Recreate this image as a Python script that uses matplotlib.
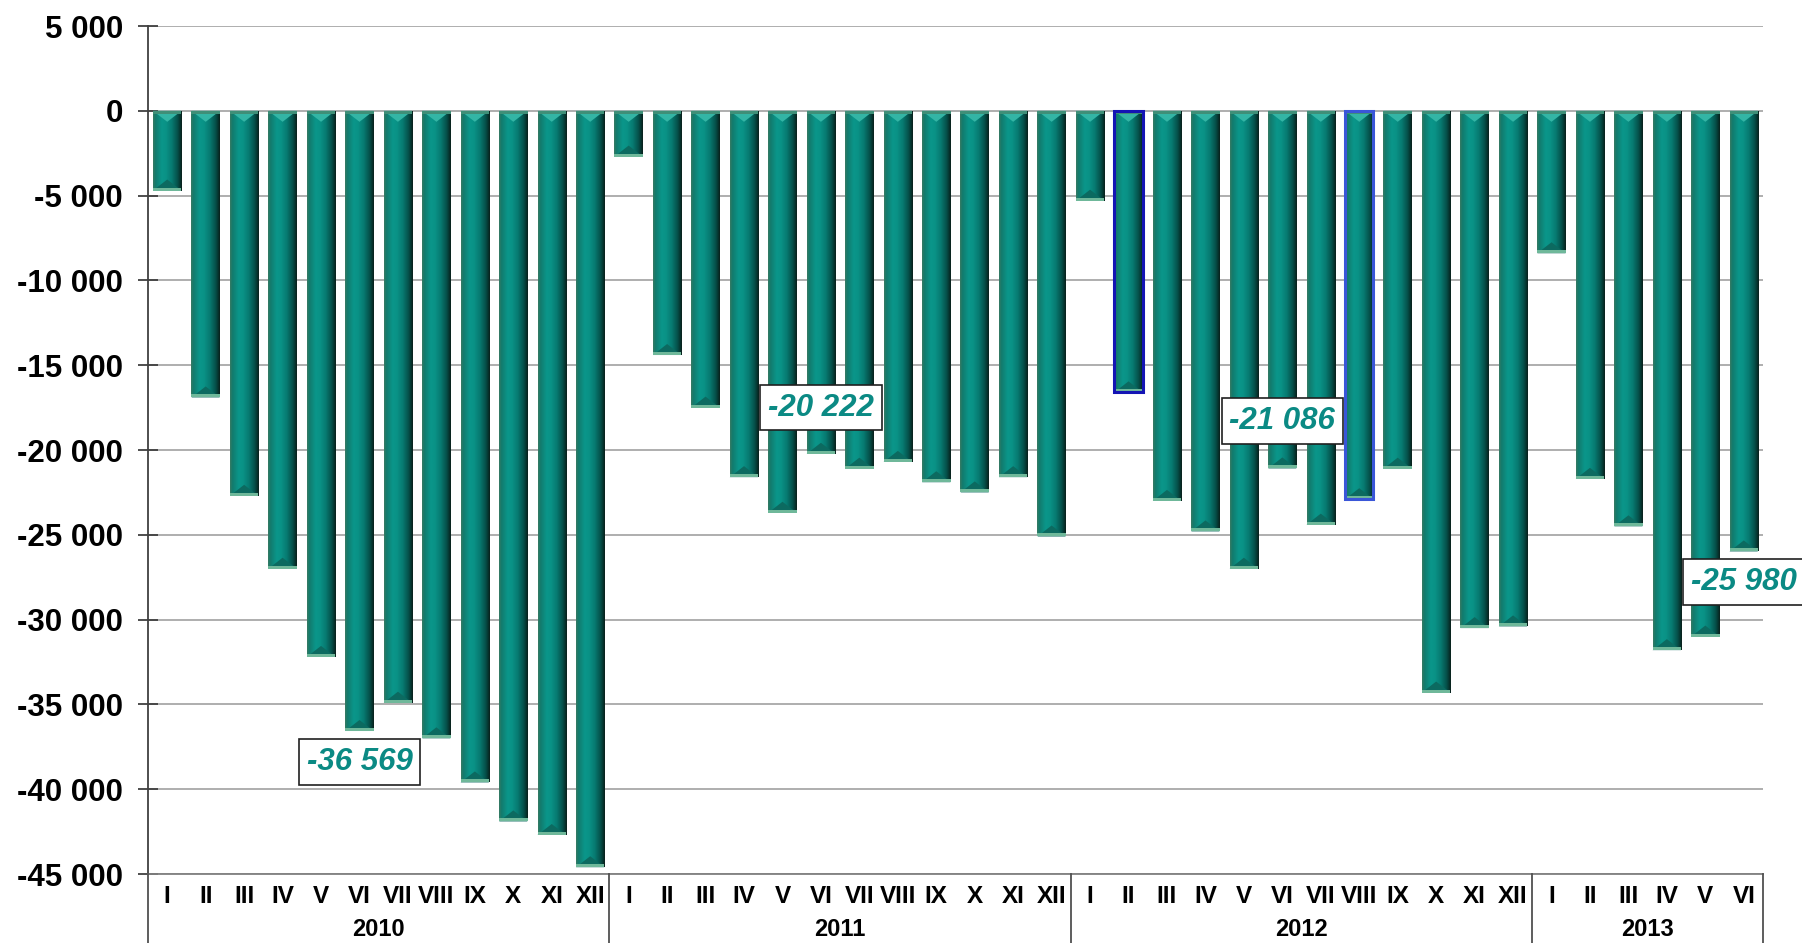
import matplotlib
matplotlib.use("Agg")
import matplotlib.pyplot as plt
import numpy as np
from matplotlib.colors import LinearSegmentedColormap
from matplotlib.patches import Polygon
from matplotlib.ticker import FuncFormatter, MultipleLocator
import matplotlib.transforms as mtransforms

plt.rcParams['font.family'] = ['Liberation Sans', 'DejaVu Sans']

# ---- data ----
years = ["2010", "2011", "2012", "2013"]
months_per_year = [12, 12, 12, 6]
month_names = ["I", "II", "III", "IV", "V", "VI", "VII", "VIII", "IX", "X", "XI", "XII"]

values_2010 = [-4700, -16900, -22700, -27000, -32200, -36569, -34900, -37000, -39600, -41900, -42700, -44600]
values_2011 = [-2700, -14400, -17500, -21600, -23700, -20222, -21100, -20700, -21900, -22500, -21600, -25100]
values_2012 = [-5300, -16600, -23000, -24800, -27000, -21086, -24400, -22900, -21100, -34300, -30500, -30400]
values_2013 = [-8400, -21700, -24500, -31800, -31000, -25980]

# annotated bars: (global index, label text, label y-position)
callouts = [(5, "-36 569", -38400), (17, "-20 222", -17500), (29, "-21 086", -18300), (41, "-25 980", -27800)]
# bars with blue outline
blue_edges = {25: "#1414b4", 31: "#3a56d8"}

values = values_2010 + values_2011 + values_2012 + values_2013
labels = []
for n in months_per_year:
    labels += month_names[:n]
x = np.arange(len(values))

fig = plt.figure(figsize=(18.02, 9.43), dpi=100)
ax = fig.add_axes([148/1802, 1 - 874/943, (1763-148)/1802, (874-26)/943])
ax.set_xlim(-0.5, len(values) - 0.5)
ax.set_ylim(-45000, 5000)

bars = ax.bar(x, values, width=0.74, color="#0a857b", zorder=2, linewidth=0)

cmap = LinearSegmentedColormap.from_list("bar3d", [
    (0.0, "#3a7a62"), (0.08, "#137a6c"), (0.3, "#0a968a"), (0.45, "#0a9286"),
    (0.65, "#077a71"), (0.85, "#05504a"), (0.95, "#06302b"), (1.0, "#0b1e1a")])
grad = np.linspace(0, 1, 256).reshape(1, -1)

fig.canvas.draw()
px_per_unit = ax.transData.transform((0, 0))[1] - ax.transData.transform((0, -1))[1]
depth = 11 / px_per_unit
line_h = 3 / px_per_unit

for i, b in enumerate(bars):
    x0 = b.get_x(); w = b.get_width(); y0 = b.get_y(); h = b.get_height()
    lo, hi = min(y0, y0 + h), max(y0, y0 + h)
    im = ax.imshow(grad, cmap=cmap, aspect="auto", extent=[x0, x0 + w, lo, hi],
                   zorder=2.1, interpolation="bilinear")
    im.set_clip_path(b)
    xc = x0 + w / 2
    # top bevel (light)
    ax.add_patch(Polygon([(x0, hi), (x0 + w, hi), (xc, hi - depth)], closed=True,
                         facecolor="#33b5a5", edgecolor="none", zorder=2.2))
    ax.add_patch(Polygon([(x0, hi), (x0 + w, hi), (x0 + w, hi - line_h), (x0, hi - line_h)],
                         closed=True, facecolor="#3f8f78", edgecolor="none", zorder=2.25))
    # bottom bevel (dark, subtle)
    ax.add_patch(Polygon([(x0, lo), (x0 + w, lo), (xc, lo + depth)], closed=True,
                         facecolor="#0c6a60", edgecolor="none", zorder=2.2))
    ax.add_patch(Polygon([(x0, lo), (x0 + w, lo), (x0 + w, lo + line_h), (x0, lo + line_h)],
                         closed=True, facecolor="#6fb89a", edgecolor="none", zorder=2.25))
    if i in blue_edges:
        ax.bar(x[i], values[i], width=0.74, facecolor="none", edgecolor=blue_edges[i],
               linewidth=2.2, zorder=2.4)

# grid and axes
ax.yaxis.set_major_locator(MultipleLocator(5000))
ax.yaxis.set_major_formatter(FuncFormatter(
    lambda v, p: ("-" if v < 0 else "") + f"{abs(int(round(v))):,}".replace(",", " ")))
ax.grid(axis="y", color="#a8a8a8", linewidth=1.3, zorder=0)
ax.set_axisbelow(True)
for s in ["top", "right"]:
    ax.spines[s].set_visible(False)
ax.spines["left"].set_color("#404040")
ax.spines["left"].set_linewidth(1.3)
ax.spines["bottom"].set_color("#808080")
ax.spines["bottom"].set_linewidth(1.3)
ax.tick_params(axis="y", direction="inout", length=14, width=1.3, color="#404040",
               labelsize=22.5, pad=11)
for t in ax.get_yticklabels():
    t.set_fontweight("bold")

ax.set_xticks(x)
ax.set_xticklabels(labels, fontsize=17.5, fontweight="bold")
ax.tick_params(axis="x", length=0, pad=8)

# year separators and year labels
trans = mtransforms.blended_transform_factory(ax.transData, ax.transAxes)
ybot = -(943 - 874) / 848.0 - 0.01
bounds = np.concatenate([[0], np.cumsum(months_per_year)]) - 0.5
for bx in bounds:
    ax.plot([bx, bx], [0, ybot], transform=trans, color="#505050", linewidth=1.3,
            clip_on=False, zorder=3)
for k, yr in enumerate(years):
    ax.text((bounds[k] + bounds[k + 1]) / 2, -(930 - 874) / 848.0, yr, transform=trans,
            ha="center", va="center", fontsize=17, fontweight="bold")

# callouts
for idx, txt, ypos in callouts:
    ax.text(x[idx], ypos, txt, ha="center", va="center", fontsize=22.5, fontweight="bold",
            fontstyle="italic", color="#0b8a84", zorder=5,
            bbox=dict(boxstyle="square,pad=0.25", facecolor="white", edgecolor="#202020",
                      linewidth=1.2))

fig.savefig("out.png", dpi=100)
